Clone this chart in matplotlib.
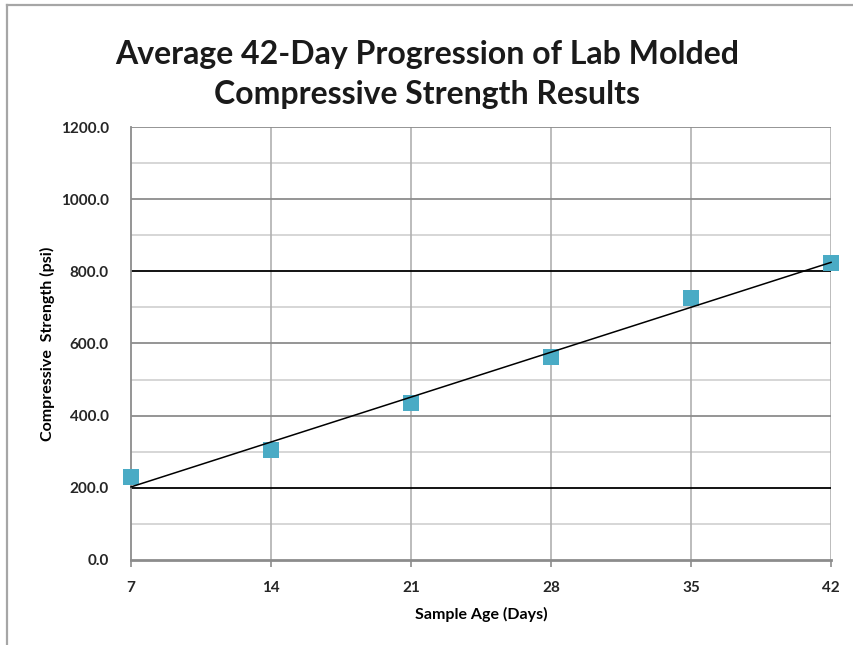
import numpy as np
import matplotlib.pyplot as plt
from matplotlib.lines import Line2D

# average compressive strength of lab molded cylinders
age_days = [7, 14, 21, 28, 35, 42]
strength_psi = [230, 305, 435, 563, 726, 823]
y_ticks = [0, 200, 400, 600, 800, 1000, 1200]

plt.rcParams['font.family'] = ['Lato', 'DejaVu Sans']

fig = plt.figure(figsize=(8.54, 6.45), dpi=100)
ax = fig.add_axes([0.1534, 0.1318, 0.8197, 0.6713])

# outer chart frame (top and left edges only show)
fig.add_artist(Line2D([7 / 854, 7 / 854], [0, 1 - 5 / 645], color='#a6a6a6', lw=1.6))
fig.add_artist(Line2D([7 / 854, 1], [1 - 5 / 645, 1 - 5 / 645], color='#a6a6a6', lw=1.6))

ax.set_xlim(7, 42)
ax.set_ylim(0, 1200)

# horizontal grid: light minor lines, gray majors, black at 200 and 800
for v in range(100, 1200, 200):
    ax.axhline(v, color='#d0d0d0', lw=1.2, zorder=1)
for v in y_ticks[1:]:
    c = '#000000' if v in (200, 800) else '#8c8c8c'
    ax.axhline(v, color=c, lw=1.3, zorder=1.5)
for x in age_days[1:]:
    ax.axvline(x, color='#b0b0b0', lw=1.2, zorder=1)

ax.scatter(age_days, strength_psi, marker='s', s=130, color='#4aabc5',
           zorder=3, clip_on=False, linewidths=0)

# linear trend line
k, b = np.polyfit(age_days, strength_psi, 1)
xs = np.array([age_days[0], age_days[-1]])
ax.plot(xs, k * xs + b, color='black', lw=1.1, zorder=4, clip_on=False)

for side in ['top', 'right']:
    ax.spines[side].set_visible(False)
ax.spines['left'].set_color('#8c8c8c')
ax.spines['left'].set_linewidth(1.3)
ax.spines['bottom'].set_color('#8c8c8c')
ax.spines['bottom'].set_linewidth(2)

ax.set_xticks(age_days)
ax.set_xticklabels([str(d) for d in age_days])
ax.set_yticks(y_ticks)
ax.set_yticklabels([f'{v:.1f}' for v in y_ticks])
ax.tick_params(axis='x', length=5, width=1.2, color='#8c8c8c', pad=10,
               labelsize=11, labelcolor='#262626')
ax.tick_params(axis='y', length=0, pad=16, labelsize=11, labelcolor='#262626')
for lab in ax.get_xticklabels() + ax.get_yticklabels():
    lab.set_fontweight('bold')

ax.set_xlabel('Sample Age (Days)', fontsize=11.5, fontweight='bold', labelpad=9)
ax.set_ylabel('Compressive  Strength (psi)', fontsize=11.5, fontweight='bold',
              labelpad=4)

fig.text(0.5, 0.884, 'Average 42-Day Progression of Lab Molded\nCompressive Strength Results',
         ha='center', va='center', fontsize=23, fontweight='bold',
         linespacing=1.45, color='#1a1a1a')

fig.savefig('out.png', dpi=100, facecolor='white')
